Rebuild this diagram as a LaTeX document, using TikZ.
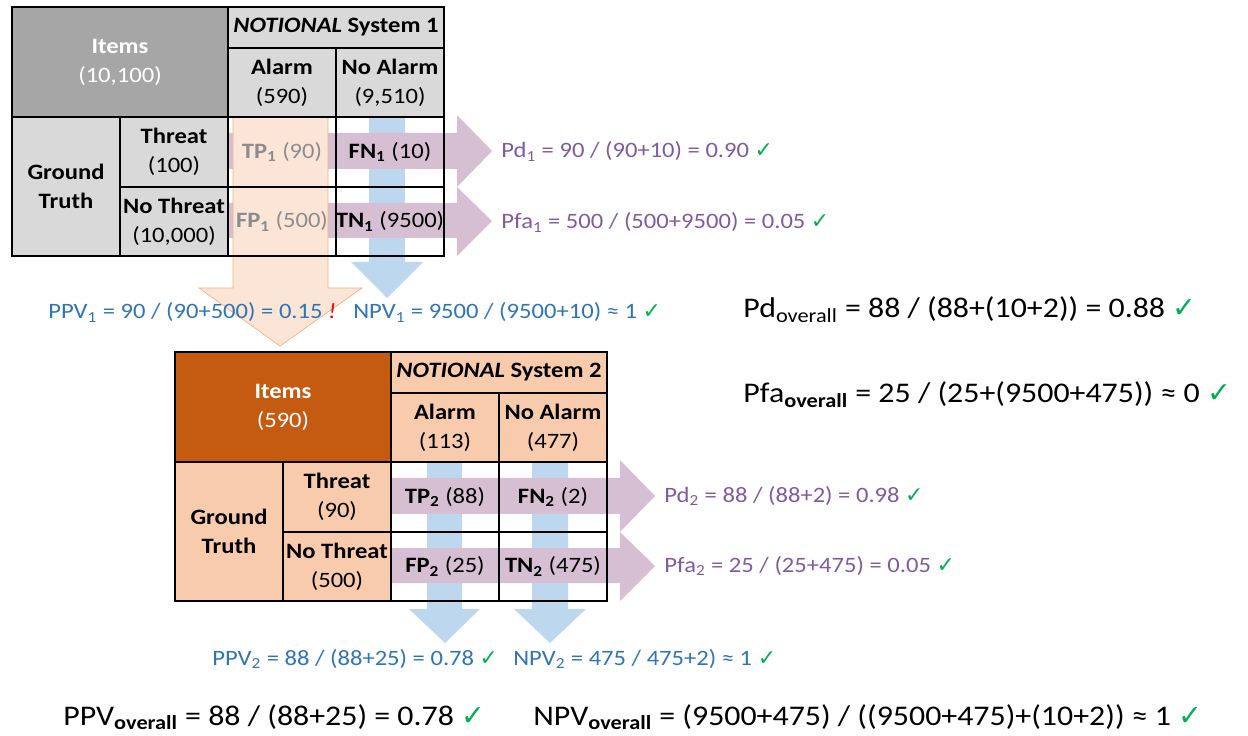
\documentclass[tikz,border=0pt]{standalone}
\usepackage{fontspec}
\setmainfont{Carlito}[FakeStretch=1.12]
\newfontfamily\symfont{DejaVu Sans}

\definecolor{cellgray}{RGB}{217,217,217}
\definecolor{itemgray}{RGB}{166,166,166}
\definecolor{itemorange}{RGB}{197,90,17}
\definecolor{cellpeach}{RGB}{248,203,173}
\definecolor{arrpurple}{RGB}{215,191,211}
\definecolor{arrblue}{RGB}{189,215,238}
\definecolor{arrpeach}{RGB}{251,229,214}
\definecolor{edgepeach}{RGB}{244,177,131}
\definecolor{txtpurple}{RGB}{128,90,160}
\definecolor{txtblue}{RGB}{46,117,182}
\definecolor{okgreen}{RGB}{0,176,80}
\definecolor{fadegray}{RGB}{140,140,140}

\newcommand{\ok}{\textcolor{okgreen}{\symfont ✓}}

\begin{document}
\begin{tikzpicture}[x=0.02cm,y=-0.02cm,
  cell/.style={font=\fontsize{12.5}{16.4}\selectfont,align=center,inner sep=0pt},
  small/.style={font=\fontsize{12.5}{15}\selectfont,anchor=base west,inner sep=0pt},
  big/.style={font=\fontsize{16.2}{19}\selectfont,anchor=base west,inner sep=0pt},
  grid/.style={line width=0.8pt}]
\useasboundingbox (0,0) rectangle (1248,736);

% system 1
\begin{scope}[shift={(12,7)}]
\fill[itemgray] (0,0) rectangle (216,110);
\fill[cellgray] (216,0) rectangle (432,110);
\fill[cellgray] (0,110) rectangle (216,249);
\fill[arrblue] (357,110) -- (393,110) -- (393,255) -- (411,255) -- (375,291) -- (339,255) -- (357,255) -- cycle;
\fill[arrpurple] (216,126) -- (445,126) -- (445,108) -- (480,144) -- (445,180) -- (445,162) -- (216,162) -- cycle;
\fill[arrpurple] (216,196) -- (445,196) -- (445,180) -- (480,214) -- (445,249) -- (445,231) -- (216,231) -- cycle;
\filldraw[fill=arrpeach,draw=edgepeach] (221,110) -- (316,110) -- (316,281) -- (350,281) -- (268,339) -- (187,281) -- (221,281) -- cycle;
\draw[grid] (0,0) rectangle (432,249);
\draw[grid] (216,0) -- (216,249) (0,110) -- (432,110) (216,41) -- (432,41);
\draw[grid] (324,41) -- (324,249) (108,110) -- (108,249) (108,180) -- (432,180);
\node[cell,text=white] (itemsA) at (108,55) {\textbf{Items}\\(10,100)};
\node[cell] (sysA) at (324,20.5) {\textbf{\textit{NOTIONAL} System 1}};
\node[cell] (alarmA) at (270,75.5) {\textbf{Alarm}\\(590)};
\node[cell] (noalarmA) at (378,75.5) {\textbf{No Alarm}\\(9,510)};
\node[cell] (truthA) at (54,179.5) {\textbf{Ground}\\\textbf{Truth}};
\node[cell] (threatA) at (162,145) {\textbf{Threat}\\(100)};
\node[cell] (nothreatA) at (162,214.5) {\textbf{No Threat}\\(10,000)};
\node[cell,text=fadegray] (tpA) at (270,145) {\textbf{TP\textsubscript{1}} (90)};
\node[cell,text=fadegray] (fpA) at (270,214.5) {\textbf{FP\textsubscript{1}} (500)};
\node[cell] (fnA) at (378,145) {\textbf{FN\textsubscript{1}} (10)};
\node[cell] (tnA) at (378,214.5) {\textbf{TN\textsubscript{1}} (9500)};
\end{scope}

% system 2
\begin{scope}[shift={(175,352)}]
\fill[itemorange] (0,0) rectangle (216,110);
\fill[cellpeach] (216,0) rectangle (432,110);
\fill[cellpeach] (0,110) rectangle (216,249);
\fill[arrblue] (252,110) -- (287,110) -- (287,257) -- (305,257) -- (270,291) -- (234,257) -- (252,257) -- cycle;
\fill[arrblue] (357,110) -- (393,110) -- (393,257) -- (411,257) -- (375,291) -- (339,257) -- (357,257) -- cycle;
\fill[arrpurple] (216,126) -- (445,126) -- (445,108) -- (480,144) -- (445,180) -- (445,162) -- (216,162) -- cycle;
\fill[arrpurple] (216,196) -- (445,196) -- (445,180) -- (480,214) -- (445,249) -- (445,231) -- (216,231) -- cycle;
\draw[grid] (0,0) rectangle (432,249);
\draw[grid] (216,0) -- (216,249) (0,110) -- (432,110) (216,41) -- (432,41);
\draw[grid] (324,41) -- (324,249) (108,110) -- (108,249) (108,180) -- (432,180);
\node[cell,text=white] (itemsB) at (108,55) {\textbf{Items}\\(590)};
\node[cell] (sysB) at (324,20.5) {\textbf{\textit{NOTIONAL} System 2}};
\node[cell] (alarmB) at (270,75.5) {\textbf{Alarm}\\(113)};
\node[cell] (noalarmB) at (378,75.5) {\textbf{No Alarm}\\(477)};
\node[cell] (truthB) at (54,179.5) {\textbf{Ground}\\\textbf{Truth}};
\node[cell] (threatB) at (162,145) {\textbf{Threat}\\(90)};
\node[cell] (nothreatB) at (162,214.5) {\textbf{No Threat}\\(500)};
\node[cell] (tpB) at (270,145) {\textbf{TP\textsubscript{2}} (88)};
\node[cell] (fpB) at (270,214.5) {\textbf{FP\textsubscript{2}} (25)};
\node[cell] (fnB) at (378,145) {\textbf{FN\textsubscript{2}} (2)};
\node[cell] (tnB) at (378,214.5) {\textbf{TN\textsubscript{2}} (475)};
\end{scope}

\node[small,text=txtpurple] (pdA) at (501,158) {Pd\textsubscript{1} = 90 / (90+10) = 0.90 \ok};
\node[small,text=txtpurple] (pfaA) at (501,229) {Pfa\textsubscript{1} = 500 / (500+9500) = 0.05 \ok};
\node[small,text=txtblue] (ppvA) at (48,319) {PPV\textsubscript{1} = 90 / (90+500) = 0.15 \textcolor{red}{\textit{!}}};
\node[small,text=txtblue] (npvA) at (353,319) {NPV\textsubscript{1} = 9500 / (9500+10) ≈ 1 \ok};
\node[small,text=txtpurple] (pdB) at (664,502) {Pd\textsubscript{2} = 88 / (88+2) = 0.98 \ok};
\node[small,text=txtpurple] (pfaB) at (664,572) {Pfa\textsubscript{2} = 25 / (25+475) = 0.05 \ok};
\node[small,text=txtblue] (ppvB) at (212,665) {PPV\textsubscript{2} = 88 / (88+25) = 0.78 \ok};
\node[small,text=txtblue] (npvB) at (513,665) {NPV\textsubscript{2} = 475 / 475+2) ≈ 1 \ok};
\node[big] (pdall) at (743,318) {Pd\textsubscript{overall} = 88 / (88+(10+2)) = 0.88 \ok};
\node[big] (pfaall) at (743,403) {Pfa\textsubscript{\textbf{overall}} = 25 / (25+(9500+475)) ≈ 0 \ok};
\node[big] (ppvall) at (63,725) {PPV\textsubscript{\textbf{overall}} = 88 / (88+25) = 0.78 \ok};
\node[big] (npvall) at (533,725) {NPV\textsubscript{\textbf{overall}} = (9500+475) / ((9500+475)+(10+2)) ≈ 1 \ok};
\end{tikzpicture}
\end{document}
